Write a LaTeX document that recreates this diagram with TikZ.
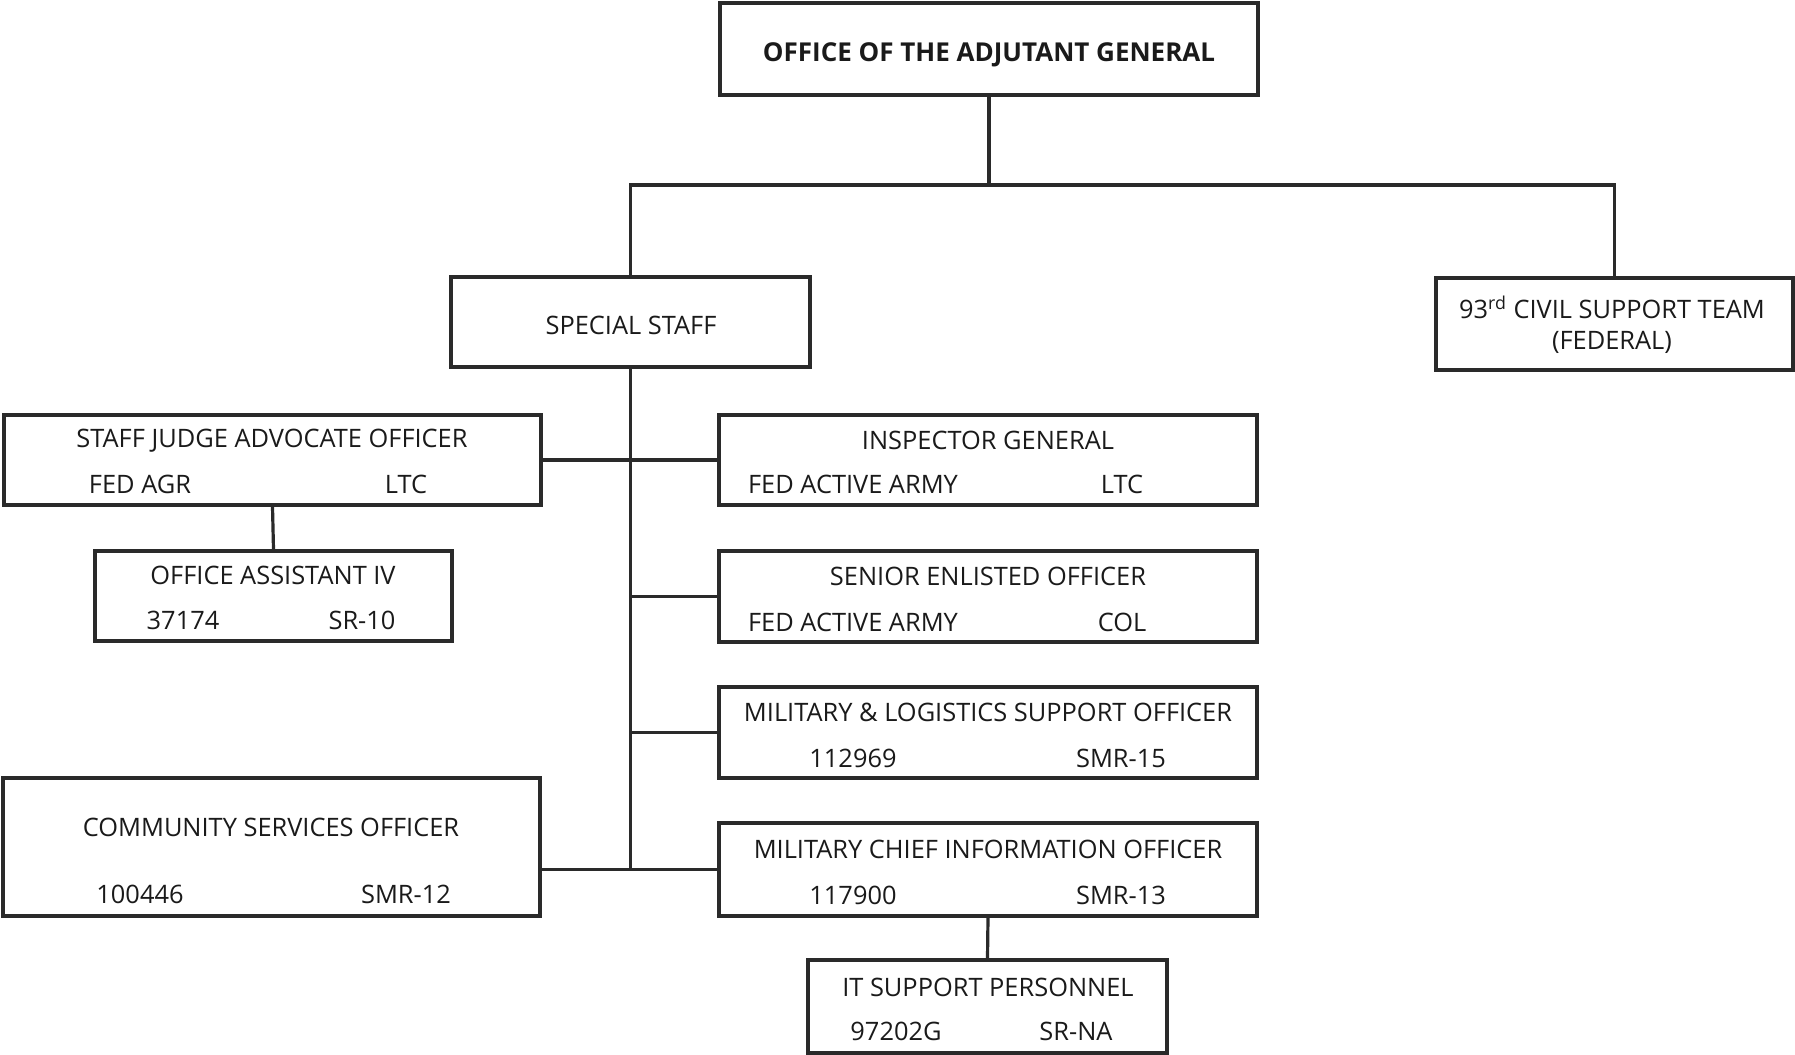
\documentclass[tikz,border=0pt]{standalone}
\usepackage{fontspec}
\setmainfont{Open Sans}
\definecolor{linec}{HTML}{2A2A2A}
\definecolor{textc}{HTML}{1A1A1A}
\begin{document}
\begin{tikzpicture}[x=0.5pt,y=-0.5pt,
  box/.style={draw=linec, line width=1.6pt, rectangle, inner sep=0pt, fill=white},
  txt/.style={text=textc, font=\fontsize{12.7}{14}\selectfont, inner sep=0pt, anchor=base},
  btxt/.style={txt, font=\fontsize{13}{14}\selectfont\bfseries},
  conn/.style={draw=linec, line width=1.6pt}]
\useasboundingbox[fill=white] (0,0) rectangle (1795,1055);

% boxes
\node[box, minimum width=269pt, minimum height=46pt] (ag) at (989,49) {};
\node[box, minimum width=179.5pt, minimum height=45pt] (ss) at (630.5,322) {};
\node[box, minimum width=178.5pt, minimum height=46pt] (cst) at (1614.5,324) {};
\node[box, minimum width=268.5pt, minimum height=45pt] (sja) at (272.5,460) {};
\node[box, minimum width=269pt, minimum height=45pt] (ig) at (988,460) {};
\node[box, minimum width=178.5pt, minimum height=45pt] (oa) at (273.5,596) {};
\node[box, minimum width=269pt, minimum height=45.5pt] (seo) at (988,596.5) {};
\node[box, minimum width=269pt, minimum height=45.5pt] (mlso) at (988,732.5) {};
\node[box, minimum width=269pt, minimum height=46.5pt] (mcio) at (988,869.5) {};
\node[box, minimum width=268.5pt, minimum height=69pt] (cso) at (271.5,847) {};
\node[box, minimum width=179.5pt, minimum height=46.5pt] (it) at (987.5,1006.5) {};

% connectors
\coordinate (j1) at (989,185);
\draw[conn] (ag.south) -- (j1);
\draw[conn] (ss.north) |- (j1) -| (cst.north);
\draw[conn] (ss.south) -- (ss.south |- mcio.west);
\draw[conn] (sja.east) -- (ig.west);
\draw[conn] (ss.south |- seo.west) -- (seo.west);
\draw[conn] (ss.south |- mlso.west) -- (mlso.west);
\draw[conn] (cso.east |- mcio.west) -- (mcio.west);
\draw[conn] (sja.south) -- (oa.north);
\draw[conn] (mcio.south) -- (it.north);

% texts
\node[btxt] (agT) at (989,61) {OFFICE OF THE ADJUTANT GENERAL};
\node[txt] (ssT) at (631,334) {SPECIAL STAFF};
\node[txt] (cstT1) at (1612,318) {93\textsuperscript{rd} CIVIL SUPPORT TEAM};
\node[txt] (cstT2) at (1612,349) {(FEDERAL)};

\node[txt] (sjaT) at (272,447) {STAFF JUDGE ADVOCATE OFFICER};
\node[txt] (sjaA) at (140,493) {FED AGR};
\node[txt] (sjaB) at (406,493) {LTC};

\node[txt] (igT) at (988,449) {INSPECTOR GENERAL};
\node[txt] (igA) at (853,493) {FED ACTIVE ARMY};
\node[txt] (igB) at (1122,493) {LTC};

\node[txt] (oaT) at (273,584) {OFFICE ASSISTANT IV};
\node[txt] (oaA) at (183,629) {37174};
\node[txt] (oaB) at (362,629) {SR-10};

\node[txt] (seoT) at (988,585) {SENIOR ENLISTED OFFICER};
\node[txt] (seoA) at (853,631) {FED ACTIVE ARMY};
\node[txt] (seoB) at (1122,631) {COL};

\node[txt] (mlsoT) at (988,721) {MILITARY \& LOGISTICS SUPPORT OFFICER};
\node[txt] (mlsoA) at (853,767) {112969};
\node[txt] (mlsoB) at (1121,767) {SMR-15};

\node[txt] (mcioT) at (988,858) {MILITARY CHIEF INFORMATION OFFICER};
\node[txt] (mcioA) at (853,904) {117900};
\node[txt] (mcioB) at (1121,904) {SMR-13};

\node[txt] (csoT) at (271,836) {COMMUNITY SERVICES OFFICER};
\node[txt] (csoA) at (140,903) {100446};
\node[txt] (csoB) at (406,903) {SMR-12};

\node[txt] (itT) at (988,996) {IT SUPPORT PERSONNEL};
\node[txt] (itA) at (896,1040) {97202G};
\node[txt] (itB) at (1076,1040) {SR-NA};
\end{tikzpicture}
\end{document}
